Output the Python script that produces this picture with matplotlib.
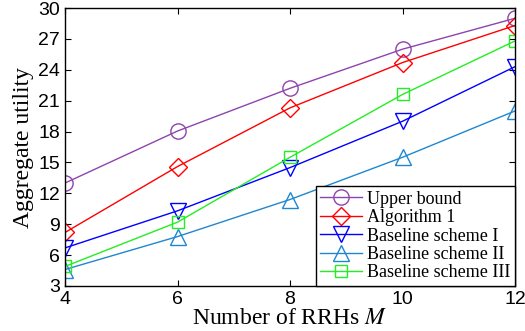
import matplotlib
matplotlib.use("Agg")
import matplotlib.pyplot as plt

plt.rcParams["mathtext.fontset"] = "stix"

M = [4, 6, 8, 10, 12]
upper = [13.0, 18.05, 22.2, 26.0, 29.0]
alg1 = [8.2, 14.6, 20.3, 24.7, 28.3]
base1 = [6.7, 10.3, 14.5, 19.0, 24.3]
base2 = [4.6, 7.8, 11.4, 15.5, 20.0]
base3 = [4.9, 9.2, 15.5, 21.6, 26.8]

series = [
    (upper, "o", "#8E44AD", "Upper bound"),
    (alg1, "D", "#FF0000", "Algorithm 1"),
    (base1, "v", "#0000FF", "Baseline scheme I"),
    (base2, "^", "#1F87D0", "Baseline scheme II"),
    (base3, "s", "#22EE22", "Baseline scheme III"),
]

fig = plt.figure(figsize=(5.25, 3.31), dpi=100)
ax = fig.add_axes([65/525, 1-286/331, 450/525, 278/331])

for y, mk, col, lab in series:
    ms = 11
    if mk == "D":
        ms = 9
    if mk == "s":
        ms = 8
    ax.plot(M, y, marker=mk, color=col, lw=1, ms=ms, mfc="none", mew=1, label=lab)

ax.set_xlim(4, 12)
ax.set_ylim(3, 30)
ax.set_xticks(M)
ax.set_yticks(range(3, 31, 3))
ax.tick_params(direction="in", top=True, right=True, labelsize=14, length=4)
for t in ax.get_xticklabels() + ax.get_yticklabels():
    t.set_family("Liberation Sans")
for s in ax.spines.values():
    s.set_linewidth(1)
ax.set_xlabel("Number of RRHs $M$", family="Liberation Serif", fontsize=17, labelpad=0)
ax.set_ylabel("Aggregate utility", family="Liberation Serif", fontsize=17, labelpad=3)

leg = ax.legend(loc="lower right", prop={"family": "Liberation Serif", "size": 13},
                fancybox=False, framealpha=1, edgecolor="black", borderaxespad=0,
                handlelength=2.3, labelspacing=0.08, borderpad=0.25, handletextpad=0.3)
leg.get_frame().set_linewidth(1)

fig.savefig("out.png", dpi=100)
